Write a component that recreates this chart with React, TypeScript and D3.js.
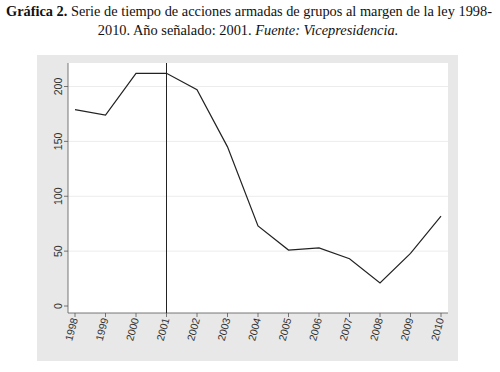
import React from "react";
import * as d3 from "d3";

const years = [1998, 1999, 2000, 2001, 2002, 2003, 2004, 2005, 2006, 2007, 2008, 2009, 2010];
const acciones = [179, 174, 212, 212, 197, 145, 73, 51, 53, 43, 21, 48, 82];
const yTicks = [0, 50, 100, 150, 200];
const markedYear = 2001;

const W = 500;
const H = 372;
const panel = { x0: 37, y0: 55, x1: 458, y1: 361 };
const plot = { x0: 68, y0: 63, x1: 448, y1: 313 };

export default function App() {
  const x = d3.scaleLinear().domain([1998, 2010]).range([75, 441]);
  const y = d3.scaleLinear().domain([0, 200]).range([306, 86.5]);
  const line = d3
    .line<number>()
    .x((_, i) => x(years[i]))
    .y((d) => y(d));

  const serif = "'Liberation Serif', 'DejaVu Serif', serif";
  const sans = "'Liberation Sans', Arial, sans-serif";

  return (
    <svg
      width={W}
      height={H}
      style={{ position: "absolute", left: 0, top: 0, display: "block", background: "#fff" }}
    >
      <text x={249} y={16} textAnchor="middle" fontFamily={serif} fontSize={14.4} fill="#111"
        textLength={486} lengthAdjust="spacingAndGlyphs">
        <tspan fontWeight="bold">Gráfica 2.</tspan>
        <tspan> Serie de tiempo de acciones armadas de grupos al margen de la ley 1998-</tspan>
      </text>
      <text x={248} y={35} textAnchor="middle" fontFamily={serif} fontSize={14.4} fill="#111">
        <tspan>2010. Año señalado: 2001. </tspan>
        <tspan fontStyle="italic">Fuente: Vicepresidencia.</tspan>
      </text>

      <rect x={panel.x0} y={panel.y0} width={panel.x1 - panel.x0} height={panel.y1 - panel.y0} fill="#e8e8e8" />
      <rect x={plot.x0} y={plot.y0} width={plot.x1 - plot.x0} height={plot.y1 - plot.y0} fill="#ffffff" />

      {yTicks.filter((t) => t > 0).map((t) => (
        <line key={"g" + t} x1={plot.x0} x2={plot.x1} y1={y(t)} y2={y(t)} stroke="#ececec" strokeWidth={1} />
      ))}

      {/* y axis */}
      <line x1={plot.x0} x2={plot.x0} y1={plot.y0} y2={plot.y1} stroke="#555" strokeWidth={0.8} />
      {yTicks.map((t) => (
        <g key={"y" + t}>
          <line x1={plot.x0 - 4} x2={plot.x0} y1={y(t)} y2={y(t)} stroke="#555" strokeWidth={0.8} />
          <text
            transform={`translate(${plot.x0 - 6},${y(t)}) rotate(-90)`}
            textAnchor="middle"
            fontFamily={sans}
            fontSize={10.5}
            fill="#333"
          >
            {t}
          </text>
        </g>
      ))}

      {/* x axis */}
      <line x1={plot.x0} x2={plot.x1} y1={plot.y1} y2={plot.y1} stroke="#555" strokeWidth={0.8} />
      {years.map((yr) => (
        <g key={"x" + yr}>
          <line x1={x(yr)} x2={x(yr)} y1={plot.y1} y2={plot.y1 + 4} stroke="#555" strokeWidth={0.8} />
          <text
            transform={`translate(${x(yr) + 3},${plot.y1 + 6}) rotate(-75)`}
            textAnchor="end"
            fontFamily={sans}
            fontSize={10.5}
            fill="#333"
          >
            {yr}
          </text>
        </g>
      ))}

      {/* marked year */}
      <line x1={x(markedYear)} x2={x(markedYear)} y1={plot.y0} y2={plot.y1} stroke="#222" strokeWidth={1} />

      <path d={line(acciones) ?? ""} fill="none" stroke="#222" strokeWidth={1.2} />
    </svg>
  );
}
